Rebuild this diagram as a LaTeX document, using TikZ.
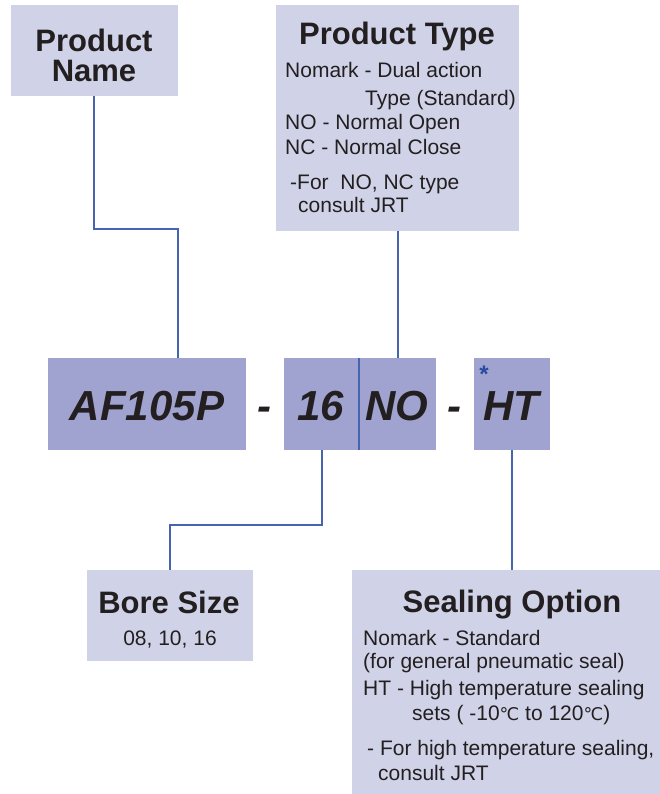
\documentclass[tikz,border=0pt]{standalone}
\usepackage{fontspec}
\setmainfont{Liberation Sans}
\newfontfamily\dejavu{DejaVu Sans}
\definecolor{boxlight}{RGB}{208,211,232}
\definecolor{boxdark}{RGB}{160,163,207}
\definecolor{linkblue}{RGB}{70,100,175}
\definecolor{stardark}{RGB}{40,75,155}
\definecolor{textdark}{RGB}{35,31,32}
\newcommand{\degc}{{\dejavu\fontsize{17.5}{20}\selectfont ℃}}
\begin{document}
\begin{tikzpicture}[x=1pt,y=-1pt,
  lightbox/.style={fill=boxlight, draw=none, anchor=north west, inner sep=0, outer sep=0},
  darkbox/.style={fill=boxdark, draw=none, anchor=north west, inner sep=0, outer sep=0},
  titletext/.style={font=\fontsize{31}{30}\selectfont\bfseries, text=textdark, anchor=base, inner sep=0, align=center},
  bodytext/.style={font=\fontsize{21}{24}\selectfont, text=textdark, anchor=base west, inner sep=0},
  codetext/.style={font=\fontsize{42}{48}\selectfont\bfseries\itshape, text=textdark, anchor=base, inner sep=0},
  link/.style={draw=linkblue, line width=1.2pt}]
\useasboundingbox (0,0) rectangle (660,794);

% boxes
\node[lightbox, minimum width=167pt, minimum height=91pt] (pname) at (11,5) {};
\node[lightbox, minimum width=243pt, minimum height=226pt] (ptype) at (276,5) {};
\node[darkbox, minimum width=198pt, minimum height=92pt] (af) at (48,358) {};
\node[darkbox, minimum width=152pt, minimum height=92pt] (bn) at (284,358) {};
\node[darkbox, minimum width=76pt, minimum height=92pt] (ht) at (474,358) {};
\node[lightbox, minimum width=166pt, minimum height=91pt] (bore) at (87,570) {};
\node[lightbox, minimum width=308pt, minimum height=224pt] (seal) at (352,570) {};

% product name
\node[titletext] (pnameT) at (94,52) {Product};
\node[titletext] (pnameT2) at (94,82) {Name};

% product type
\node[titletext] (ptypeT) at (397,45) {Product Type};
\node[bodytext] (pt1) at (285,78) {Nomark - Dual action};
\node[bodytext] (pt2) at (365,106) {Type (Standard)};
\node[bodytext] (pt3) at (285,130) {NO - Normal Open};
\node[bodytext] (pt4) at (285,155) {NC - Normal Close};
\node[bodytext] (pt5) at (290,190) {-For\ \ NO, NC type};
\node[bodytext] (pt6) at (298,213) {consult JRT};

% code row
\node[codetext] (afT) at (147,420) {AF105P};
\node[codetext] (d1) at (264,420) {-};
\node[codetext] (n16) at (321,420) {16};
\node[codetext] (nNO) at (397,420) {NO};
\node[codetext] (d2) at (454,420) {-};
\node[codetext] (htT) at (511,420) {HT};
\node[font=\fontsize{24}{24}\selectfont\bfseries, text=stardark, inner sep=0, anchor=center] (star) at (484,374) {*};

% bore size
\node[titletext] (boreT) at (169,613) {Bore Size};
\node[font=\fontsize{21}{24}\selectfont, text=textdark, anchor=base, inner sep=0] (bore1) at (170,645) {08, 10, 16};

% sealing option
\node[titletext] (sealT) at (512,612) {Sealing Option};
\node[bodytext] (s1) at (363,645) {Nomark - Standard};
\node[bodytext] (s2) at (363,668) {(for general pneumatic seal)};
\node[bodytext] (s3) at (363,695) {HT - High temperature sealing};
\node[bodytext] (s4) at (412,720) {sets ( -10\degc\ to 120\degc)};
\node[bodytext] (s5) at (367,755) {- For high temperature sealing,};
\node[bodytext] (s6) at (378,780) {consult JRT};

% connectors
\coordinate (c1) at (178,229);
\coordinate (c2) at (170,525);
\coordinate (cNO) at (398,300);
\coordinate (c16) at (322,500);
\coordinate (cHT) at (512,500);
\coordinate (cdiv) at (359,400);
\draw[link] (pname.south -| 94,0) -- (94,229) -- (c1) -- (af.north -| c1);
\draw[link] (ptype.south -| cNO) -- (bn.north -| cNO);
\draw[link] (bn.north -| cdiv) -- (bn.south -| cdiv);
\draw[link] (bn.south -| c16) -- (c16 |- c2) -- (c2) -- (bore.north -| c2);
\draw[link] (ht.south -| cHT) -- (seal.north -| cHT);
\end{tikzpicture}
\end{document}
